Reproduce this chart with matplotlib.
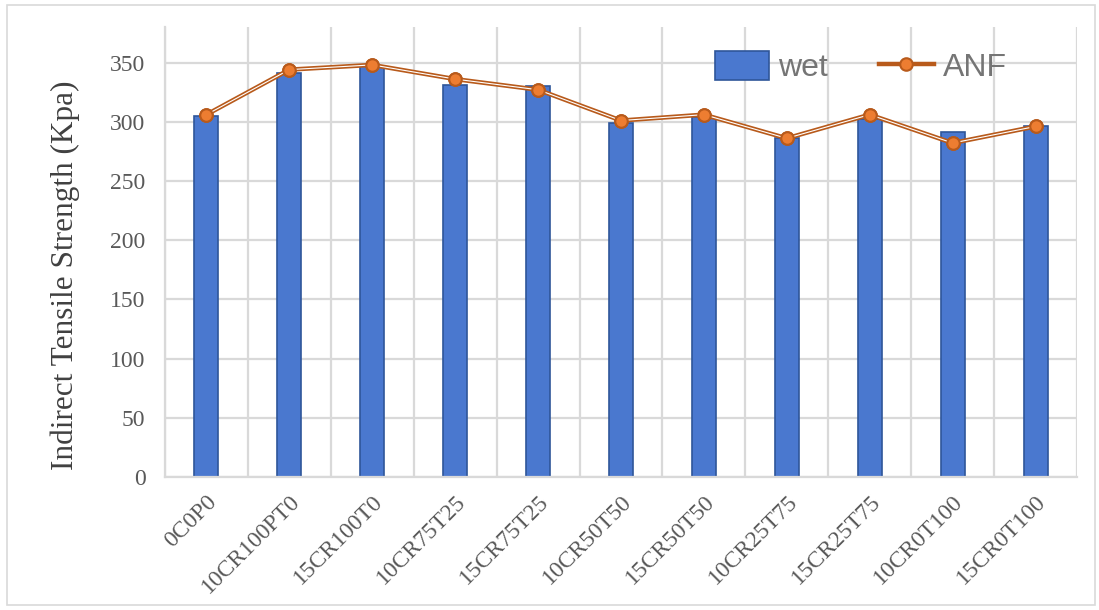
# bar + line chart of indirect tensile strength (wet vs ANF)

import matplotlib.pyplot as plt
from matplotlib.patches import Rectangle
import numpy as np

mixes = ["0C0P0", "10CR100PT0", "15CR100T0", "10CR75T25", "15CR75T25",
         "10CR50T50", "15CR50T50", "10CR25T75", "15CR25T75", "10CR0T100", "15CR0T100"]
wet = [305, 341, 347, 331, 330, 299, 304, 286, 302, 291, 296]
anf = [306, 344, 348, 336, 327, 301, 306, 286, 306, 282, 296]
y_ticks = [0, 50, 100, 150, 200, 250, 300, 350]

grid_col = "#d9d9d9"
text_col = "#595959"
bar_col = "#4a78cf"
bar_edge = "#2f569a"
line_col = "#b85a1b"
mark_col = "#ed7d31"

fig = plt.figure(figsize=(10.99, 6.10), dpi=100)
ax = fig.add_axes([165 / 1099, 1 - 477 / 610, (1077 - 165) / 1099, (477 - 27) / 610])

# chart border
fig.patches.append(Rectangle((7 / 1099, 5 / 610), 1088 / 1099, 600 / 610,
                             transform=fig.transFigure, fill=False,
                             edgecolor=grid_col, linewidth=1.2))

x = np.arange(len(mixes))
bars = ax.bar(x, wet, width=0.29, color=bar_col, edgecolor=bar_edge, linewidth=1.2,
              label="wet", zorder=2)
line, = ax.plot(x, anf, color=line_col, linewidth=3.2, marker="o", markersize=9,
                markerfacecolor=mark_col, markeredgecolor=line_col, markeredgewidth=1.5,
                label="ANF", zorder=3)
# white centre stripe to get the double-line look
ax.plot(x, anf, color="white", linewidth=0.8, zorder=3.5)
ax.plot(x, anf, linestyle="none", marker="o", markersize=9,
        markerfacecolor=mark_col, markeredgecolor=line_col, markeredgewidth=1.5,
        zorder=4)

ax.set_xlim(-0.5, len(mixes) - 0.5)
ax.set_ylim(0, 380)
ax.set_yticks(y_ticks)
ax.set_xticks(x)
ax.set_xticklabels(mixes, rotation=45, ha="right", rotation_mode="anchor",
                   family="Liberation Serif", fontsize=17, color=text_col)
for lab in ax.get_yticklabels():
    lab.set_family("Liberation Serif")
    lab.set_fontsize(17)
    lab.set_color(text_col)

# gridlines: horizontal at ticks, vertical at category boundaries
ax.set_xticks(np.arange(len(mixes) + 1) - 0.5, minor=True)
ax.grid(True, axis="y", which="major", color=grid_col, linewidth=1.6, zorder=0)
ax.grid(True, axis="x", which="minor", color=grid_col, linewidth=1.6, zorder=0)
ax.set_axisbelow(True)
ax.tick_params(axis="x", which="both", length=0, pad=10)
ax.tick_params(axis="y", length=0, pad=14)
for side in ["top", "right"]:
    ax.spines[side].set_visible(False)
ax.spines["left"].set_color(grid_col)
ax.spines["bottom"].set_color(grid_col)
ax.spines["left"].set_linewidth(1.6)
ax.spines["bottom"].set_linewidth(1.6)

ax.set_ylabel("Indirect Tensile Strength (Kpa)", family="Liberation Serif",
              fontsize=22.5, color="#404040")
ax.yaxis.set_label_coords(-0.093, 0.449)

leg = ax.legend(handles=[bars, line], labels=["wet", "ANF"],
                loc="upper right", bbox_to_anchor=(0.955, 1.01), ncol=2,
                frameon=False, handlelength=1.7, handleheight=1.0,
                columnspacing=1.6, handletextpad=0.3,
                prop={"family": "Liberation Sans", "size": 23})
for t in leg.get_texts():
    t.set_color("#757575")

fig.savefig("out.png", dpi=100)
